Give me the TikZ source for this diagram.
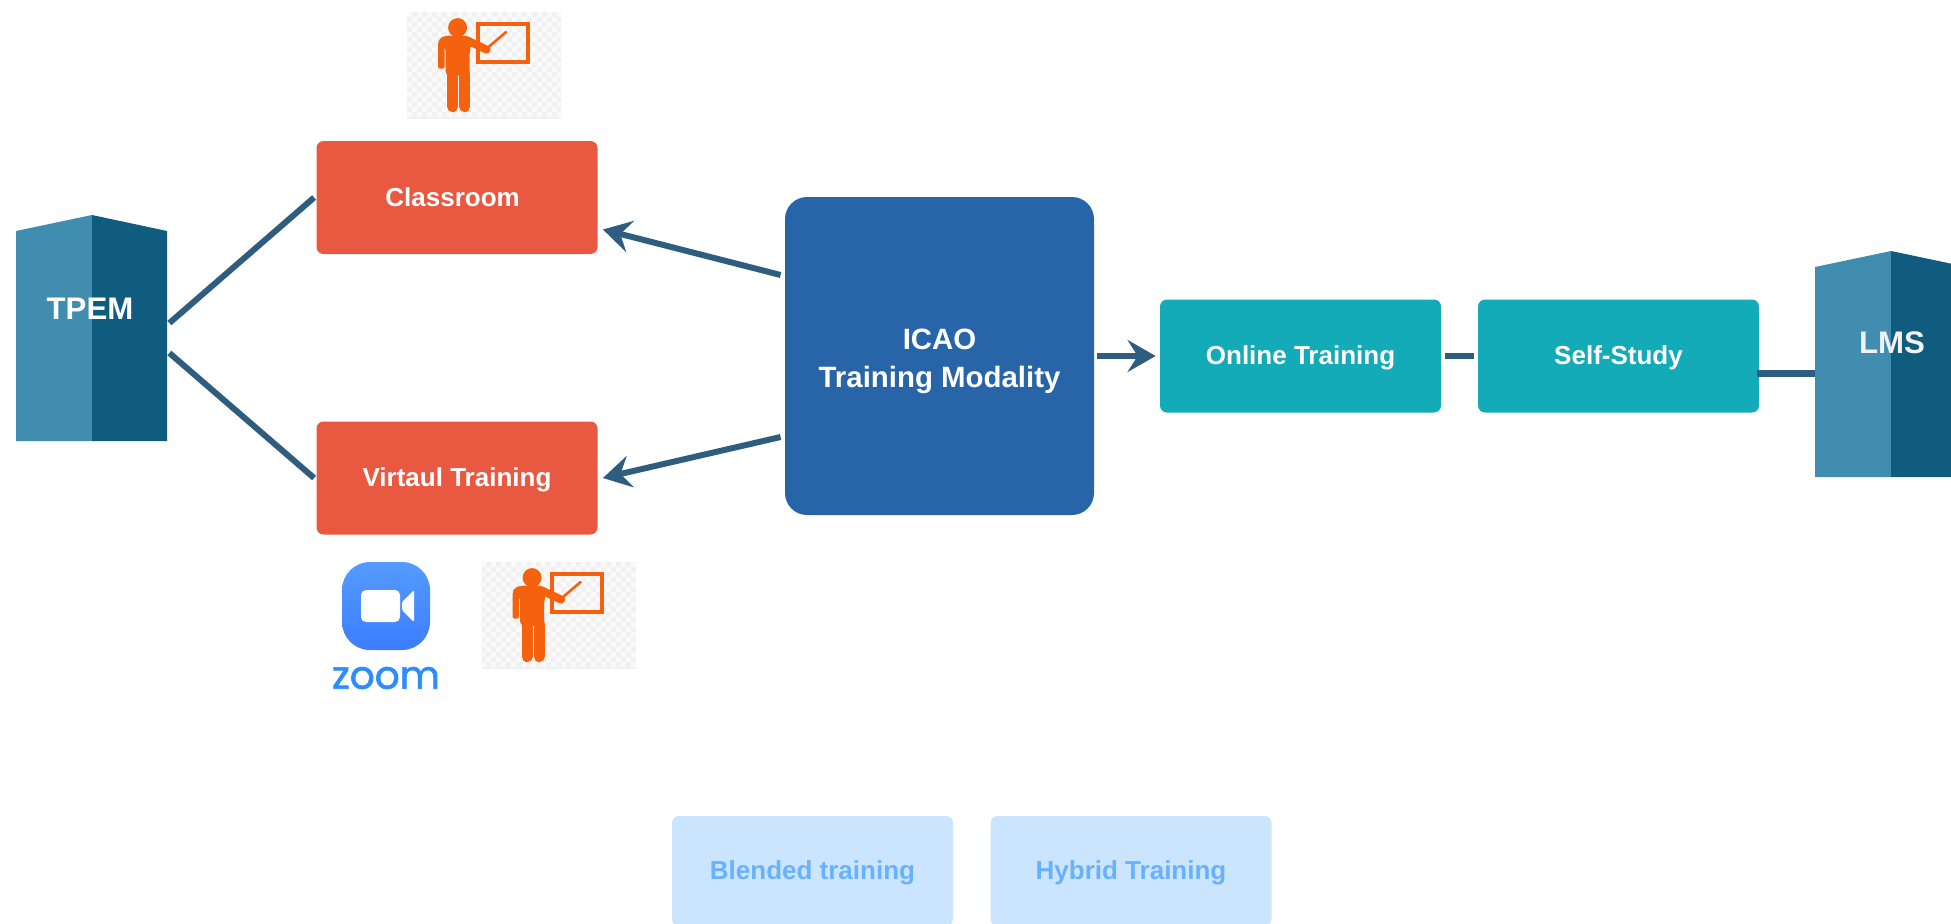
\documentclass[tikz,border=0pt]{standalone}
\usepackage{fontspec}
\setmainfont{Liberation Sans}
\newfontfamily\zoomfont[FakeBold=1.6]{Poppins}
\usetikzlibrary{arrows.meta}
\definecolor{redbox}{HTML}{E95840}
\definecolor{bluebox}{HTML}{2864A8}
\definecolor{tealbox}{HTML}{14ABB8}
\definecolor{lightbox}{HTML}{CCE5FF}
\definecolor{lighttext}{HTML}{66B2FF}
\definecolor{conn}{HTML}{2F5D80}
\definecolor{towerl}{HTML}{408DB0}
\definecolor{towerd}{HTML}{0F5C7E}
\definecolor{orangeicon}{HTML}{F5620F}
\definecolor{iconbg}{HTML}{F1F1F1}
\definecolor{iconcheck}{HTML}{FAFAFA}
\definecolor{zoomblue}{HTML}{2D8CFF}
\definecolor{zoomtop}{HTML}{559BFF}
\definecolor{zoombot}{HTML}{3B7DFF}
\tikzset{
  base/.style={rectangle,rounded corners=3.5pt,minimum width=140.5pt,text=white,inner sep=0pt,
    text height=9.5pt,text depth=1pt,font=\bfseries\fontsize{13}{15}\selectfont},
  redstyle/.style={base,fill=redbox,minimum height=56.5pt},
  tealstyle/.style={base,fill=tealbox,minimum height=56.5pt},
  lightstyle/.style={base,fill=lightbox,text=lighttext,minimum height=55pt},
  bigbox/.style={rectangle,rounded corners=11pt,fill=bluebox,text=white,minimum width=154.5pt,
    minimum height=159pt,align=center,inner sep=0pt,font=\bfseries\fontsize{14.7}{19}\selectfont},
  towerarea/.style={rectangle,minimum width=75.5pt,minimum height=114.5pt,inner sep=0pt},
  towertext/.style={text=white,inner sep=0pt,font=\bfseries\fontsize{15.6}{18}\selectfont},
  line/.style={draw=conn,line width=3pt},
  arrowline/.style={line,-{Stealth[length=14pt,width=16pt,inset=5pt]}},
  icon/.style={inner sep=0pt,minimum width=77pt,minimum height=53.5pt,fill=iconbg},
  pics/teacher/.style={code={
    \foreach \cx in {0,...,30}{\foreach \cy in {0,...,20}{
      \pgfmathparse{int(mod(\cx+\cy,2))}
      \ifnum\pgfmathresult=0
        \fill[iconcheck] (\cx*5,\cy*5) rectangle ++(5,5);
      \fi
    }}
    \fill[orangeicon] (51,16) circle[radius=9.5];
    \draw[orangeicon,line width=1.9pt] (71,12.5) rectangle (121,50);
    \fill[orangeicon,rounded corners=2pt] (32,32) -- (32,27) -- (39,24) -- (60,24) -- (66,27) -- (63,40) -- (63,64) -- (39,64) -- (39,35) -- cycle;
    \fill[orangeicon,rounded corners=1pt] (31.5,30) rectangle (38,57);
    \draw[orangeicon,line width=4pt,line cap=round] (61,29) -- (80,38);
    \draw[orangeicon,line width=1.3pt] (80,37) -- (100,20);
    \draw[orangeicon,line width=5.5pt,line cap=round] (46,62) -- (46,95);
    \draw[orangeicon,line width=5.5pt,line cap=round] (58,62) -- (58,95);
  }}
}
\begin{document}
\begin{tikzpicture}[x=0.5pt,y=-0.5pt]
\useasboundingbox (0,0) rectangle (1951,923);
\clip (0,0) rectangle (1951,923);
\fill[white] (0,0) rectangle (1951,923);
% towers
\fill[towerl] (16,231) -- (92,215) -- (92,441) -- (16,441) -- cycle;
\fill[towerd] (92,215) -- (167,231) -- (167,441) -- (92,441) -- cycle;
\node[towerarea] (tpem) at (91.5,328) {};
\node[towertext] (tpemlabel) at (90,309) {TPEM};
\fill[towerl] (1815,267) -- (1891,251) -- (1891,477) -- (1815,477) -- cycle;
\fill[towerd] (1891,251) -- (1967,267) -- (1967,477) -- (1891,477) -- cycle;
\node[towerarea] (lms) at (1891,364) {};
\node[towertext,text=white!90!gray] (lmslabel) at (1892,343) {LMS};
% boxes
\node[redstyle] (classroom) at (457,197.5) {Classroom\hspace*{4.4pt}};
\node[redstyle] (virtual) at (457,478) {Virtaul Training};
\node[bigbox] (icao) at (939.5,356) {\rule{0pt}{16pt}ICAO\\Training Modality};
\node[tealstyle] (online) at (1300.5,356) {Online Training};
\node[tealstyle] (self) at (1618.5,356) {Self-Study};
\node[lightstyle] (blended) at (812.5,871) {Blended training};
\node[lightstyle] (hybrid) at (1131,871) {Hybrid Training};
% connectors
\draw[line] ([xshift=1pt,yshift=2.5pt]tpem.east) -- ([xshift=-1pt]classroom.west);
\draw[line] ([xshift=1pt,yshift=-12.5pt]tpem.east) -- ([xshift=-1pt]virtual.west);
\draw[arrowline] ([xshift=-2pt,yshift=40.5pt]icao.west) -- ([xshift=2.5pt,yshift=-16pt]classroom.east);
\draw[arrowline] ([xshift=-2pt,yshift=-40.5pt]icao.west) -- ([xshift=2.5pt]virtual.east);
\draw[arrowline] ([xshift=1.5pt]icao.east) -- ([xshift=-2pt]online.west);
\draw[line] ([xshift=2pt]online.east) -- ([xshift=-2pt]self.west);
\draw[line,line width=3.5pt] ([xshift=-1pt,yshift=-8.5pt]self.east) -- ([yshift=-4.5pt]lms.west);
% teacher icons
\node[icon] (iconA) at (484,65.5) {};
\pic at (iconA.north west) {teacher};
\node[icon] (iconB) at (558.5,615.5) {};
\pic at (iconB.north west) {teacher};
% zoom logo
\node[rectangle,rounded corners=14pt,minimum width=44pt,minimum height=44pt,inner sep=0pt,
  top color=zoomtop,bottom color=zoombot] (zoomicon) at (386,606) {};
\fill[white,rounded corners=2.5pt] (361,590) rectangle (400,622);
\fill[white,rounded corners=0.7pt] (402,602) -- (414,590) -- (414,622) -- (402,610) -- cycle;
\node[inner sep=0pt,text=zoomblue,font=\zoomfont\fontsize{19.5}{22}\selectfont] (zoomlabel) at (386,678) {zoom};
\end{tikzpicture}
\end{document}
